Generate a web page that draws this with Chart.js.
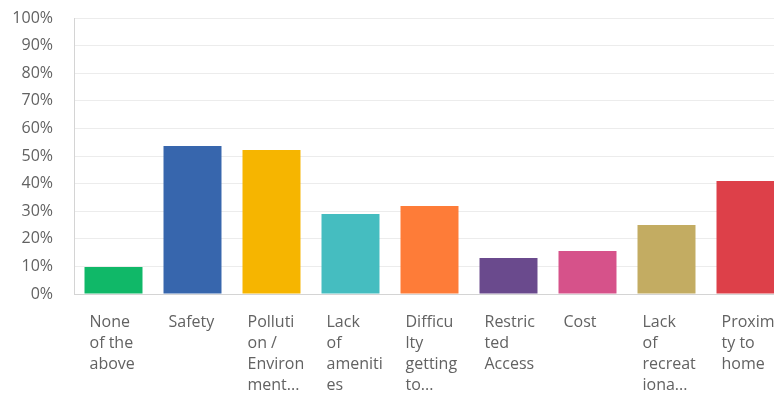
<!DOCTYPE html>
<html>
<head>
<meta charset="utf-8">
<script src="https://cdn.jsdelivr.net/npm/chart.js@4/dist/chart.umd.min.js"></script>
<style>
  html, body { margin: 0; padding: 0; background: #fff; overflow: hidden; }
  #wrap { width: 785px; height: 394px; position: relative; }
</style>
</head>
<body>
<div id="wrap"><canvas id="chart"></canvas></div>
<script>
/* ---------- DATA ---------- */

const categories = [
  ["None", "of the", "above"],
  ["Safety"],
  ["Polluti", "on /", "Environ", "ment..."],
  ["Lack", "of", "ameniti", "es"],
  ["Difficu", "lty", "getting", "to..."],
  ["Restric", "ted", "Access"],
  ["Cost"],
  ["Lack", "of", "recreat", "iona..."],
  ["Proximi", "ty to", "home"]
];

const values = [9.8, 53.6, 52.2, 29.0, 31.9, 13.0, 15.6, 25.0, 40.9];

const barColors = [
  "#10b868", "#3766ad", "#f6b500", "#45bdc0", "#fe7c38",
  "#6a4a8d", "#d6528a", "#c3ac62", "#dd4049"
];

/* ---------- CHART ---------- */

const fontFamily = "'Open Sans', sans-serif";
const textColor = "#626262";

new Chart(document.getElementById("chart"), {
  type: "bar",
  data: {
    labels: categories,
    datasets: [{
      data: values,
      backgroundColor: barColors,
      borderWidth: 0,
      barPercentage: 0.734,
      categoryPercentage: 1
    }]
  },
  options: {
    responsive: true,
    maintainAspectRatio: false,
    animation: false,
    layout: { padding: 0 },
    plugins: {
      legend: { display: false },
      tooltip: { enabled: false }
    },
    scales: {
      x: {
        grid: { display: false, drawTicks: false },
        border: { color: "#d4d4d4" },
        ticks: {
          align: "start",
          labelOffset: -24,
          padding: 18,
          maxRotation: 0,
          autoSkip: false,
          color: textColor,
          font: { family: fontFamily, size: 16, lineHeight: 1.31 }
        },
        // fixed axis band, no extra room for label overflow
        afterFit(scale) {
          scale.height = 100;
          scale.paddingLeft = 0;
          scale.paddingRight = 0;
        }
      },
      y: {
        min: 0,
        max: 100,
        grid: { color: "#ececec", drawTicks: false },
        border: { color: "#d4d4d4" },
        ticks: {
          stepSize: 10,
          padding: 21,
          color: textColor,
          font: { family: fontFamily, size: 16 },
          callback: v => v + "%"
        },
        afterFit(scale) {
          scale.width = 74;
          scale.paddingTop = 18;
          scale.paddingBottom = 0;
        }
      }
    }
  }
});
</script>
</body>
</html>
